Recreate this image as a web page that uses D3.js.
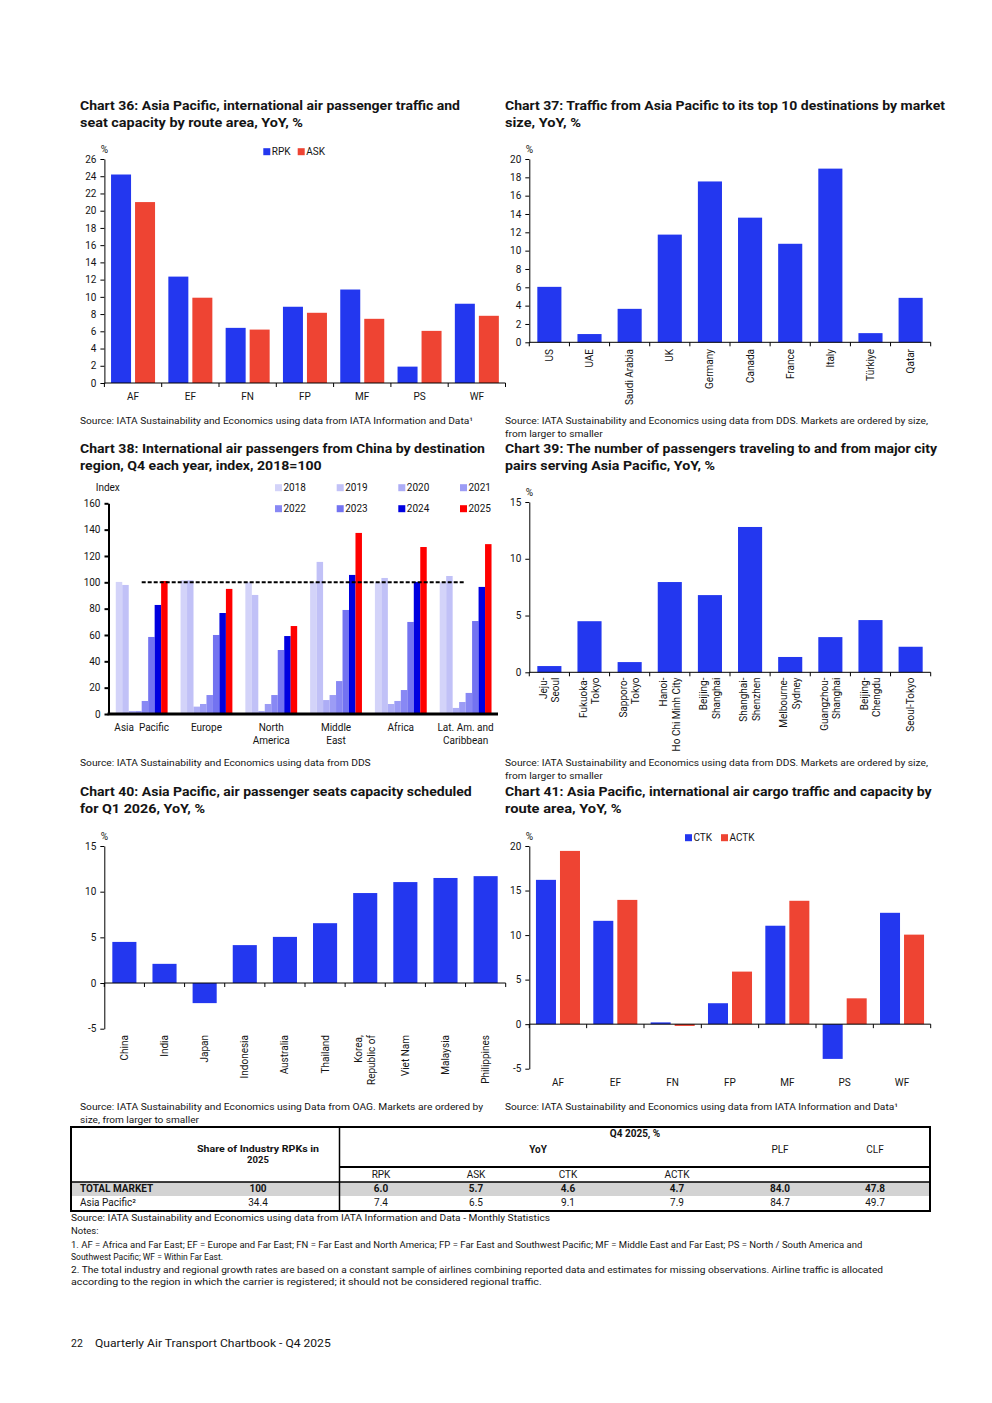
<!DOCTYPE html>
<html><head><meta charset="utf-8">
<script src="https://cdn.jsdelivr.net/npm/d3@7"></script>
<style>
body{margin:0;background:#fff}
svg text{font-family:Roboto,"Liberation Sans",Arial,sans-serif}
</style></head><body>
<svg id="page" width="992" height="1403" xmlns="http://www.w3.org/2000/svg"></svg>
<script>
// ---------------- DATA ----------------
const c36Categories = ["AF","EF","FN","FP","MF","PS","WF"];
const c36RPK = [24.2, 12.35, 6.4, 8.85, 10.85, 1.9, 9.2];
const c36ASK = [21.0, 9.9, 6.2, 8.15, 7.45, 6.05, 7.8];
const c36Ticks = [0,2,4,6,8,10,12,14,16,18,20,22,24,26];

const c37Categories = ["US","UAE","Saudi Arabia","UK","Germany","Canada","France","Italy","Türkiye","Qatar"];
const c37Values = [6.05, 0.9, 3.65, 11.75, 17.55, 13.6, 10.75, 18.95, 1.0, 4.85];
const c37Ticks = [0,2,4,6,8,10,12,14,16,18,20];

const c38Regions = ["Asia  Pacific","Europe","North\nAmerica","Middle\nEast","Africa","Lat. Am. and\nCaribbean"];
const c38Years = ["2018","2019","2020","2021","2022","2023","2024","2025"];
const c38Y2018 = [100.3, 101.5, 100, 100, 100, 100];
const c38Y2019 = [98, 101.5, 90.4, 115.5, 103.3, 104.8];
const c38Y2020 = [2.3, 5.6, 2.3, 10.6, 7.6, 4.6];
const c38Y2021 = [2.3, 7.6, 7.6, 14.4, 9.9, 9.1];
const c38Y2022 = [9.9, 14.4, 14.4, 25, 18.2, 16];
const c38Y2023 = [58.5, 60, 48.6, 79, 69.9, 70.6];
const c38Y2024 = [82.8, 76.7, 59.2, 105.6, 100.3, 96.5];
const c38Y2025 = [101, 95, 66.8, 137.5, 126.8, 129];
const c38Ticks = [0,20,40,60,80,100,120,140,160];
const c38RefLevel = 100;

const c39Categories = ["Jeju-\nSeoul","Fukuoka-\nTokyo","Sapporo-\nTokyo","Hanoi-\nHo Chi Minh City","Beijing-\nShanghai","Shanghai-\nShenzhen","Melbourne-\nSydney","Guangzhou-\nShanghai","Beijing-\nChengdu","Seoul-Tokyo"];
const c39Values = [0.55, 4.5, 0.9, 7.95, 6.8, 12.8, 1.35, 3.1, 4.6, 2.25];
const c39Ticks = [0,5,10,15];

const c40Categories = ["China","India","Japan","Indonesia","Australia","Thailand","Korea,\nRepublic of","Viet Nam","Malaysia","Philippines"];
const c40Values = [4.5, 2.1, -2.2, 4.15, 5.05, 6.55, 9.85, 11.05, 11.5, 11.7];
const c40Ticks = [-5,0,5,10,15];

const c41Categories = ["AF","EF","FN","FP","MF","PS","WF"];
const c41CTK = [16.2, 11.6, 0.2, 2.35, 11.05, -3.9, 12.5];
const c41ACTK = [19.45, 13.95, -0.2, 5.9, 13.85, 2.9, 10.05];
const c41Ticks = [-5,0,5,10,15,20];

const tableRows = ["TOTAL MARKET","Asia Pacific²"];
const tableShare = ["100","34.4"];
const tableRPK = ["6.0","7.4"];
const tableASK = ["5.7","6.5"];
const tableCTK = ["4.6","9.1"];
const tableACTK = ["4.7","7.9"];
const tablePLF = ["84.0","84.7"];
const tableCLF = ["47.8","49.7"];

// ---------------- HELPERS ----------------
const svg = d3.select("#page");
const BLUE = "#2337ef", RED = "#ee4433", INK = "#141414";
const c38Colors = ["#d3d3f9","#c1c1f7","#adadf6","#9c9cf5","#8888f4","#7373f1","#0000e0","#ff0000"];

function txt(g, x, y, s, o = {}) {
  const t = g.append("text").attr("x", x).attr("y", y)
    .attr("font-size", o.size || 10).attr("font-weight", o.bold ? 700 : 400)
    .attr("text-anchor", o.anchor || "start").attr("fill", o.fill || INK).text(s);
  if (o.pre) t.style("white-space", "pre");
  if (o.w) {
    const L = t.node().getComputedTextLength();
    if (Math.abs(L - o.w) / o.w > 0.015) t.attr("textLength", o.w).attr("lengthAdjust", "spacingAndGlyphs");
  }
  return t;
}

function yAxis(g, y, x0, ticks, w = 1, len = 4) {
  const a = g.append("g").attr("transform", `translate(${x0},0)`)
    .call(d3.axisLeft(y).tickValues(ticks).tickSize(len).tickSizeOuter(0).tickPadding(4).tickFormat(d => String(d)));
  a.attr("font-family", null).attr("font-size", null);
  a.selectAll("text").attr("font-size", 10).attr("fill", INK);
  a.select(".domain").attr("stroke", "#000").attr("stroke-width", w);
  a.selectAll(".tick line").attr("stroke", "#000").attr("stroke-width", w);
}

function xBase(g, x, yv, ticks = true, w = 1) {
  const [a, b] = x.range();
  g.append("line").attr("x1", a).attr("x2", b).attr("y1", yv).attr("y2", yv).attr("stroke", "#000").attr("stroke-width", w);
  if (ticks) {
    const pos = x.domain().map(d => x(d)).concat([b]);
    g.selectAll(null).data(pos).join("line")
      .attr("x1", d => d).attr("x2", d => d).attr("y1", yv).attr("y2", yv + 4)
      .attr("stroke", "#000").attr("stroke-width", 1);
  }
}

function bars(g, cats, series, x, xi, y) {
  series.forEach(s => {
    g.selectAll(null).data(s.values).join("rect")
      .attr("x", (d, i) => x(cats[i]) + xi(s.name))
      .attr("width", xi.bandwidth())
      .attr("y", d => y(Math.max(0, d)))
      .attr("height", d => Math.abs(y(d) - y(0)))
      .attr("fill", s.color);
  });
}

function rotLabels(g, cats, x, top) {
  cats.forEach(c => {
    const lines = c.split("\n");
    const t = g.append("text")
      .attr("transform", `translate(${x(c) + x.bandwidth() / 2},${top}) rotate(-90)`)
      .attr("text-anchor", "end").attr("font-size", 10).attr("fill", INK);
    lines.forEach((l, i) => {
      t.append("tspan").attr("x", 0).attr("y", (i - (lines.length - 1) / 2) * 12.5)
        .attr("dominant-baseline", "central").text(l);
    });
  });
}

function catLabels(g, cats, x, base) {
  cats.forEach(c => {
    c.split("\n").forEach((l, i) => {
      txt(g, x(c) + x.bandwidth() / 2, base + i * 13.4, l, { anchor: "middle", pre: true });
    });
  });
}

function legendItem(g, x, cy, label, color) {
  g.append("rect").attr("x", x).attr("y", cy - 3.5).attr("width", 7).attr("height", 7).attr("fill", color);
  txt(g, x + 8.5, cy + 3.5, label, { size: 10 });
}

// ---------------- CHART 36 ----------------
{
  const g = svg.append("g");
  txt(g, 80, 110, "Chart 36: Asia Pacific, international air passenger traffic and", { size: 13, bold: true, w: 380 });
  txt(g, 80, 127, "seat capacity by route area, YoY, %", { size: 13, bold: true, w: 223 });
  const x = d3.scaleBand().domain(c36Categories).range([104.4, 505.5]);
  const y = d3.scaleLinear().domain([0, 26]).range([383, 159]);
  const series = [{ name: "RPK", values: c36RPK, color: BLUE }, { name: "ASK", values: c36ASK, color: RED }];
  const xi = d3.scaleBand().domain(series.map(s => s.name)).range([0, x.bandwidth()]).paddingInner(0.1667).paddingOuter(0.277);
  bars(g, c36Categories, series, x, xi, y);
  xBase(g, x, y(0));
  yAxis(g, y, 104.4, c36Ticks);
  catLabels(g, c36Categories, x, 400);
  txt(g, 104.4, 152.5, "%", { size: 10, anchor: "middle" });
  legendItem(g, 263.3, 151.7, "RPK", BLUE);
  legendItem(g, 297.7, 151.7, "ASK", RED);
  txt(g, 80, 424, "Source: IATA Sustainability and Economics using data from IATA Information and Data¹", { size: 9, w: 393 });
}

// ---------------- CHART 37 ----------------
{
  const g = svg.append("g");
  txt(g, 505, 110, "Chart 37: Traffic from Asia Pacific to its top 10 destinations by market", { size: 13, bold: true, w: 440 });
  txt(g, 505, 127, "size, YoY, %", { size: 13, bold: true, w: 76 });
  const x = d3.scaleBand().domain(c37Categories).range([529.3, 930.7]);
  const y = d3.scaleLinear().domain([0, 20]).range([342.3, 159]);
  const xi = d3.scaleBand().domain(["v"]).range([0, x.bandwidth()]).paddingOuter(0.333);
  bars(g, c37Categories, [{ name: "v", values: c37Values, color: BLUE }], x, xi, y);
  xBase(g, x, y(0));
  yAxis(g, y, 529.3, c37Ticks);
  rotLabels(g, c37Categories, x, 349);
  txt(g, 529.3, 152.5, "%", { size: 10, anchor: "middle" });
  txt(g, 505, 424, "Source: IATA Sustainability and Economics using data from DDS. Markets are ordered by size,", { size: 9, w: 423 });
  txt(g, 505, 437, "from larger to smaller", { size: 9, w: 97.7 });
}

// ---------------- CHART 38 ----------------
{
  const g = svg.append("g");
  txt(g, 80, 452.5, "Chart 38: International air passengers from China by destination", { size: 13, bold: true, w: 405 });
  txt(g, 80, 469.5, "region, Q4 each year, index, 2018=100", { size: 13, bold: true, w: 241.7 });
  const x = d3.scaleBand().domain(c38Regions).range([109.3, 498]);
  const y = d3.scaleLinear().domain([0, 160]).range([714, 503.3]);
  const c38Values = [c38Y2018, c38Y2019, c38Y2020, c38Y2021, c38Y2022, c38Y2023, c38Y2024, c38Y2025];
  const series = c38Years.map((yr, k) => ({ name: yr, values: c38Values[k], color: c38Colors[k] }));
  const xi = d3.scaleBand().domain(c38Years).range([0, x.bandwidth()]).paddingInner(0).paddingOuter(1.0);
  bars(g, c38Regions, series, x, xi, y);
  const cx0 = x(c38Regions[0]) + x.bandwidth() / 2, cx1 = x(c38Regions[c38Regions.length - 1]) + x.bandwidth() / 2;
  g.append("line").attr("x1", cx0).attr("x2", cx1).attr("y1", y(c38RefLevel)).attr("y2", y(c38RefLevel))
    .attr("stroke", "#000").attr("stroke-width", 2).attr("stroke-dasharray", "4,2");
  g.append("line").attr("x1", 107.5).attr("x2", 498).attr("y1", y(0)).attr("y2", y(0)).attr("stroke", "#000").attr("stroke-width", 2.8);
  yAxis(g, y, 108.5, c38Ticks, 2, 4);
  catLabels(g, c38Regions, x, 731);
  txt(g, 95.7, 491, "Index", { size: 10 });
  const lx = [275, 336.7, 398.3, 460], ly = [487.7, 508.7];
  series.forEach((s, k) => legendItem(g, lx[k % 4], ly[Math.floor(k / 4)], s.name, s.color));
  txt(g, 80, 766, "Source: IATA Sustainability and Economics using data from DDS", { size: 9, w: 290.7 });
}

// ---------------- CHART 39 ----------------
{
  const g = svg.append("g");
  txt(g, 505, 452.5, "Chart 39: The number of passengers traveling to and from major city", { size: 13, bold: true, w: 432 });
  txt(g, 505, 469.5, "pairs serving Asia Pacific, YoY, %", { size: 13, bold: true, w: 210 });
  const x = d3.scaleBand().domain(c39Categories).range([529.3, 930.7]);
  const y = d3.scaleLinear().domain([0, 15]).range([672.3, 502]);
  const xi = d3.scaleBand().domain(["v"]).range([0, x.bandwidth()]).paddingOuter(0.333);
  bars(g, c39Categories, [{ name: "v", values: c39Values, color: BLUE }], x, xi, y);
  xBase(g, x, y(0));
  yAxis(g, y, 529.3, c39Ticks);
  rotLabels(g, c39Categories, x, 677.5);
  txt(g, 529.3, 496, "%", { size: 10, anchor: "middle" });
  txt(g, 505, 766, "Source: IATA Sustainability and Economics using data from DDS. Markets are ordered by size,", { size: 9, w: 423 });
  txt(g, 505, 779, "from larger to smaller", { size: 9, w: 97.7 });
}

// ---------------- CHART 40 ----------------
{
  const g = svg.append("g");
  txt(g, 80, 796, "Chart 40: Asia Pacific, air passenger seats capacity scheduled", { size: 13, bold: true, w: 391.7 });
  txt(g, 80, 813, "for Q1 2026, YoY, %", { size: 13, bold: true, w: 125 });
  const x = d3.scaleBand().domain(c40Categories).range([104.3, 505.7]);
  const y = d3.scaleLinear().domain([-5, 15]).range([1028.7, 846]);
  const xi = d3.scaleBand().domain(["v"]).range([0, x.bandwidth()]).paddingOuter(0.333);
  bars(g, c40Categories, [{ name: "v", values: c40Values, color: BLUE }], x, xi, y);
  xBase(g, x, y(0));
  yAxis(g, y, 104.3, c40Ticks);
  rotLabels(g, c40Categories, x, 1035);
  txt(g, 104.3, 839.5, "%", { size: 10, anchor: "middle" });
  txt(g, 80, 1110, "Source: IATA Sustainability and Economics using Data from OAG. Markets are ordered by", { size: 9, w: 403 });
  txt(g, 80, 1123, "size, from larger to smaller", { size: 9, w: 119 });
}

// ---------------- CHART 41 ----------------
{
  const g = svg.append("g");
  txt(g, 505, 796, "Chart 41: Asia Pacific, international air cargo traffic and capacity by", { size: 13, bold: true, w: 426.7 });
  txt(g, 505, 813, "route area, YoY, %", { size: 13, bold: true, w: 116.7 });
  const x = d3.scaleBand().domain(c41Categories).range([529.3, 930.7]);
  const y = d3.scaleLinear().domain([-5, 20]).range([1068.7, 846]);
  const series = [{ name: "CTK", values: c41CTK, color: BLUE }, { name: "ACTK", values: c41ACTK, color: RED }];
  const xi = d3.scaleBand().domain(series.map(s => s.name)).range([0, x.bandwidth()]).paddingInner(0.1667).paddingOuter(0.277);
  bars(g, c41Categories, series, x, xi, y);
  xBase(g, x, y(0));
  yAxis(g, y, 529.3, c41Ticks);
  catLabels(g, c41Categories, x, 1086);
  txt(g, 529.3, 839.5, "%", { size: 10, anchor: "middle" });
  legendItem(g, 685, 837.7, "CTK", BLUE);
  legendItem(g, 721, 837.7, "ACTK", RED);
  txt(g, 505, 1110, "Source: IATA Sustainability and Economics using data from IATA Information and Data¹", { size: 9, w: 393 });
}

// ---------------- TABLE ----------------
{
  const g = svg.append("g");
  g.append("rect").attr("x", 71).attr("y", 1182).attr("width", 859).attr("height", 14).attr("fill", "#d3d3d3");
  g.append("rect").attr("x", 71).attr("y", 1127).attr("width", 859).attr("height", 84)
    .attr("fill", "none").attr("stroke", "#000").attr("stroke-width", 2);
  g.append("line").attr("x1", 339.5).attr("x2", 339.5).attr("y1", 1127).attr("y2", 1211).attr("stroke", "#000").attr("stroke-width", 1.5);
  g.append("line").attr("x1", 339.5).attr("x2", 930).attr("y1", 1167).attr("y2", 1167).attr("stroke", "#000").attr("stroke-width", 2);
  g.append("line").attr("x1", 71).attr("x2", 930).attr("y1", 1182).attr("y2", 1182).attr("stroke", "#000").attr("stroke-width", 1.5);

  txt(g, 258, 1151.5, "Share of Industry RPKs in", { size: 9.5, bold: true, anchor: "middle", w: 122 });
  txt(g, 258, 1163, "2025", { size: 9.5, bold: true, anchor: "middle" });
  txt(g, 635, 1136.5, "Q4 2025, %", { size: 10, bold: true, anchor: "middle" });
  txt(g, 538, 1152.5, "YoY", { size: 10, bold: true, anchor: "middle" });
  txt(g, 780, 1152.5, "PLF", { size: 10, anchor: "middle" });
  txt(g, 875, 1152.5, "CLF", { size: 10, anchor: "middle" });
  const colX = [258, 381, 476, 568, 677, 780, 875];
  ["RPK", "ASK", "CTK", "ACTK"].forEach((h, i) => txt(g, colX[i + 1], 1177.5, h, { size: 10, anchor: "middle" }));
  const cols = [tableShare, tableRPK, tableASK, tableCTK, tableACTK, tablePLF, tableCLF];
  const rowY = [1192.2, 1206.2];
  tableRows.forEach((r, ri) => {
    txt(g, 80, rowY[ri], r, { size: 10, bold: ri === 0 });
    cols.forEach((c, ci) => txt(g, colX[ci], rowY[ri], c[ri], { size: 10, bold: ri === 0, anchor: "middle" }));
  });

  txt(g, 71, 1221, "Source: IATA Sustainability and Economics using data from IATA Information and Data - Monthly Statistics", { size: 9.5, w: 479 });
  txt(g, 71, 1234, "Notes:", { size: 9.5 });
  txt(g, 71, 1248, "1. AF = Africa and Far East; EF = Europe and Far East; FN = Far East and North America; FP = Far East and Southwest Pacific; MF = Middle East and Far East; PS = North / South America and", { size: 9.5, w: 780.7 });
  txt(g, 71, 1260, "Southwest Pacific; WF = Within Far East.", { size: 9.5, w: 152 });
  txt(g, 71, 1273, "2. The total industry and regional growth rates are based on a constant sample of airlines combining reported data and estimates for missing observations. Airline traffic is allocated", { size: 9.5, w: 812 });
  txt(g, 71, 1285, "according to the region in which the carrier is registered; it should not be considered regional traffic.", { size: 9.5, w: 470.7 });

  txt(g, 71, 1347, "22", { size: 10.5 });
  txt(g, 95, 1347, "Quarterly Air Transport Chartbook - Q4 2025", { size: 10.5, w: 235.7 });
}
</script>
</body></html>
